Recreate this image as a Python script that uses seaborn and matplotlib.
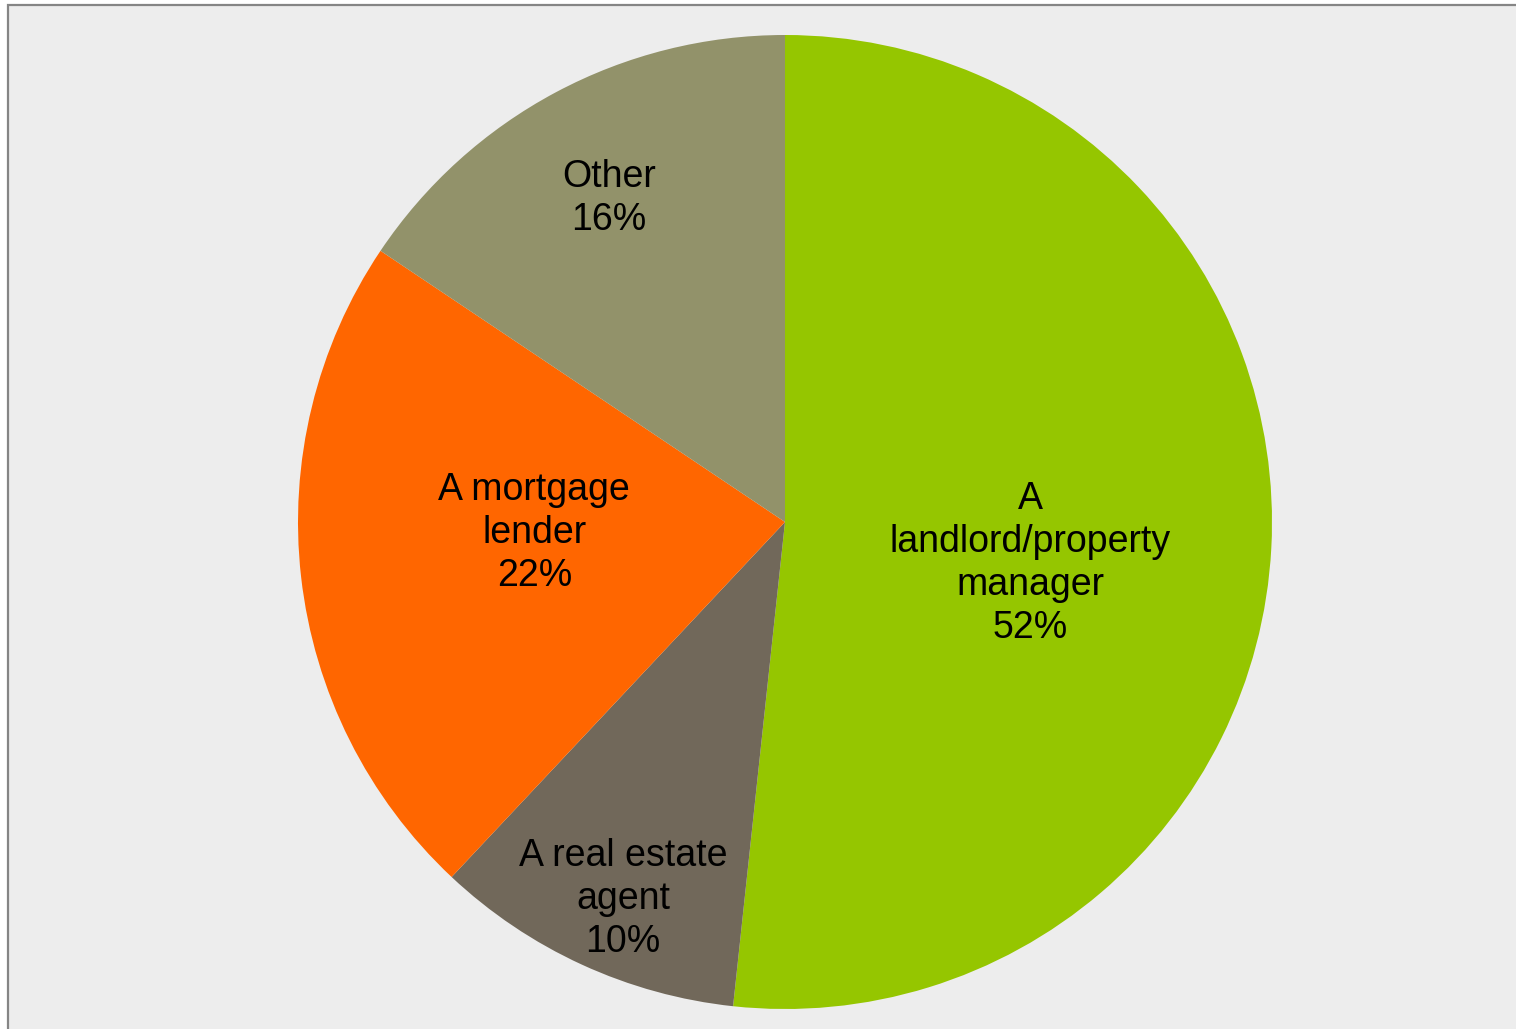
import numpy as np
import matplotlib
matplotlib.use("Agg")
import matplotlib.pyplot as plt
import matplotlib.patches as mpatches
import seaborn as sns

# slice data, clockwise from 12 o'clock
categories = ["A\nlandlord/property\nmanager", "A real estate\nagent", "A mortgage\nlender", "Other"]
shares = [51.7, 10.3, 22.4, 15.6]
pct_labels = ["52%", "10%", "22%", "16%"]
colors = ["#95C600", "#71685A", "#FF6600", "#92926A"]

# label placement: fraction of radius and angle nudge (deg) from wedge middle
label_r = [0.51, 0.835, 0.515, 0.762]
label_nudge = [-5.8, 1.2, -4.7, 0.2]

sns.set_style("white")
plt.rcParams["font.family"] = ["Liberation Sans", "DejaVu Sans"]

W, H, DPI = 1516, 1029, 100
fig = plt.figure(figsize=(W / DPI, H / DPI), dpi=DPI)
fig.patch.set_facecolor("white")

# grey chart area with thin frame (cut off at right/bottom)
bg = mpatches.Rectangle((8 / W, -0.02), 1.05, (H - 5) / H + 0.02,
                        transform=fig.transFigure, facecolor="#EDEDED",
                        edgecolor="#858585", linewidth=1.6, zorder=-1)
fig.patches.append(bg)

ax = fig.add_axes([0, 0, 1, 1])
ax.set_facecolor("none")
ax.patch.set_alpha(0)

# pie geometry in pixels
cx, cy, rpx = 785, 522, 487
wedges, _ = ax.pie(shares, colors=colors, startangle=90, counterclock=False,
                   radius=1, wedgeprops=dict(linewidth=0))

for w, cat, pct, r, dn in zip(wedges, categories, pct_labels, label_r, label_nudge):
    mid = np.deg2rad((w.theta1 + w.theta2) / 2 + dn)
    ax.text(r * np.cos(mid), r * np.sin(mid) - 3.5 / rpx, f"{cat}\n{pct}",
            ha="center", va="center", fontsize=27, linespacing=1.25,
            color="black")

ax.set_xlim(-cx / rpx, (W - cx) / rpx)
ax.set_ylim(-(H - cy) / rpx, cy / rpx)
ax.set_aspect("equal", adjustable="box")
ax.axis("off")

fig.savefig("out.png", dpi=DPI, facecolor=fig.get_facecolor())
